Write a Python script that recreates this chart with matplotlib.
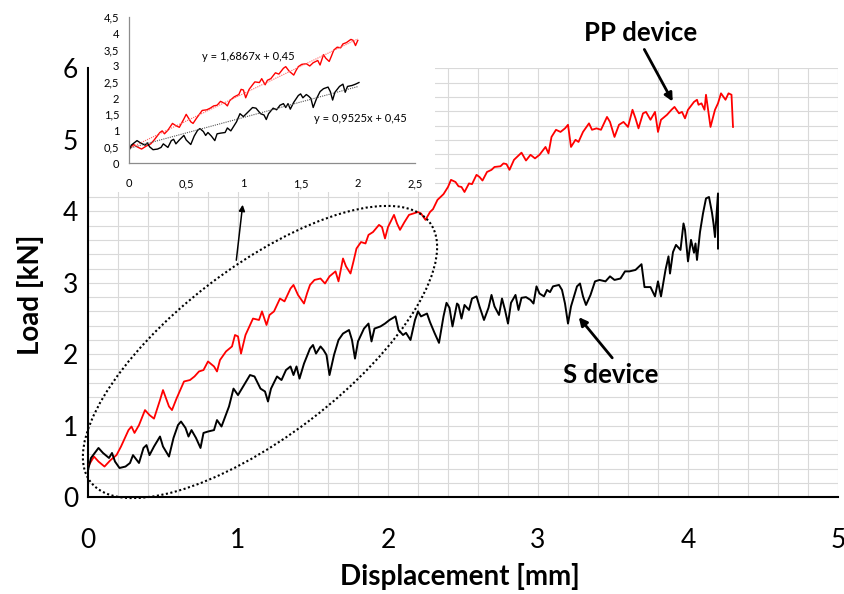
import matplotlib
matplotlib.use('Agg')
import matplotlib.pyplot as plt
from matplotlib.patches import Ellipse, Rectangle
from matplotlib.ticker import MultipleLocator
import numpy as np

plt.rcParams['font.family'] = ['Lato', 'DejaVu Sans']

# load-displacement record, PP device
pp_disp = [0.00, 0.04, 0.07, 0.11, 0.15, 0.19, 0.22, 0.27, 0.29, 0.31,
           0.34, 0.38, 0.41, 0.44, 0.48, 0.50, 0.54, 0.56, 0.59, 0.64,
           0.68, 0.71, 0.74, 0.77, 0.80, 0.84, 0.86, 0.88, 0.92, 0.96,
           0.98, 1.00, 1.02, 1.05, 1.08, 1.10, 1.14, 1.16, 1.19, 1.21,
           1.24, 1.28, 1.31, 1.35, 1.37, 1.40, 1.44, 1.46, 1.48, 1.51,
           1.55, 1.58, 1.61, 1.65, 1.67, 1.70, 1.72, 1.75, 1.77, 1.79,
           1.82, 1.85, 1.87, 1.90, 1.94, 1.96, 1.98, 2.00, 2.04, 2.06,
           2.08, 2.11, 2.14, 2.17, 2.20, 2.22, 2.25, 2.28, 2.30, 2.33,
           2.37, 2.40, 2.42, 2.45, 2.47, 2.49, 2.51, 2.54, 2.56, 2.59,
           2.61, 2.63, 2.66, 2.69, 2.71, 2.75, 2.77, 2.79, 2.81, 2.84,
           2.86, 2.89, 2.92, 2.95, 2.98, 3.01, 3.05, 3.07, 3.09, 3.12,
           3.15, 3.18, 3.20, 3.22, 3.25, 3.27, 3.30, 3.34, 3.36, 3.39,
           3.42, 3.46, 3.48, 3.51, 3.54, 3.57, 3.60, 3.63, 3.65, 3.67,
           3.70, 3.72, 3.75, 3.78, 3.80, 3.82, 3.86, 3.89, 3.91, 3.94,
           3.96, 3.98, 4.00, 4.04, 4.06, 4.07, 4.09, 4.11, 4.12, 4.15,
           4.18, 4.20, 4.22, 4.25, 4.27, 4.29, 4.30]
pp_load = [0.43, 0.57, 0.50, 0.43, 0.52, 0.59, 0.71, 0.94, 0.99, 0.90,
           1.01, 1.22, 1.15, 1.10, 1.36, 1.50, 1.27, 1.22, 1.38, 1.62,
           1.64, 1.69, 1.76, 1.78, 1.90, 1.83, 1.76, 1.92, 2.04, 2.11,
           2.27, 2.25, 2.01, 2.27, 2.41, 2.50, 2.48, 2.60, 2.41, 2.55,
           2.60, 2.78, 2.74, 2.92, 2.97, 2.83, 2.71, 2.85, 2.97, 3.04,
           3.06, 2.99, 3.09, 3.16, 3.02, 3.34, 3.23, 3.13, 3.30, 3.48,
           3.57, 3.55, 3.67, 3.71, 3.81, 3.78, 3.62, 3.78, 3.95, 3.83,
           3.74, 3.85, 3.95, 3.97, 3.99, 3.97, 3.88, 3.99, 4.03, 4.16,
           4.24, 4.34, 4.44, 4.41, 4.35, 4.34, 4.27, 4.39, 4.38, 4.51,
           4.48, 4.43, 4.55, 4.58, 4.62, 4.63, 4.67, 4.66, 4.58, 4.72,
           4.76, 4.82, 4.71, 4.79, 4.74, 4.79, 4.90, 4.81, 5.04, 5.14,
           5.11, 5.16, 5.21, 4.90, 5.00, 4.97, 5.11, 5.23, 5.14, 5.16,
           5.14, 5.32, 5.25, 5.04, 5.21, 5.25, 5.18, 5.42, 5.30, 5.16,
           5.37, 5.39, 5.28, 5.39, 5.11, 5.28, 5.35, 5.42, 5.46, 5.37,
           5.39, 5.30, 5.42, 5.53, 5.56, 5.49, 5.51, 5.42, 5.63, 5.18,
           5.42, 5.51, 5.65, 5.56, 5.65, 5.63, 5.18]

# load-displacement record, S device
s_disp = [0.00, 0.02, 0.07, 0.10, 0.14, 0.16, 0.18, 0.21, 0.25, 0.28,
          0.30, 0.34, 0.37, 0.39, 0.41, 0.44, 0.48, 0.50, 0.54, 0.57,
          0.60, 0.62, 0.65, 0.67, 0.69, 0.72, 0.75, 0.77, 0.80, 0.84,
          0.86, 0.89, 0.94, 0.97, 1.00, 1.04, 1.08, 1.11, 1.15, 1.18,
          1.20, 1.22, 1.26, 1.29, 1.32, 1.35, 1.37, 1.39, 1.41, 1.44,
          1.48, 1.50, 1.52, 1.55, 1.57, 1.59, 1.61, 1.64, 1.67, 1.70,
          1.74, 1.76, 1.78, 1.80, 1.84, 1.87, 1.89, 1.91, 1.95, 1.98,
          2.01, 2.05, 2.07, 2.10, 2.12, 2.15, 2.18, 2.20, 2.22, 2.26,
          2.28, 2.31, 2.34, 2.37, 2.39, 2.41, 2.43, 2.46, 2.47, 2.49,
          2.51, 2.54, 2.56, 2.59, 2.61, 2.64, 2.67, 2.69, 2.71, 2.74,
          2.76, 2.78, 2.80, 2.82, 2.85, 2.87, 2.89, 2.92, 2.95, 2.97,
          2.99, 3.01, 3.04, 3.06, 3.08, 3.10, 3.14, 3.16, 3.18, 3.20,
          3.22, 3.26, 3.28, 3.30, 3.32, 3.35, 3.38, 3.41, 3.45, 3.48,
          3.51, 3.55, 3.58, 3.61, 3.65, 3.69, 3.71, 3.75, 3.78, 3.80,
          3.82, 3.85, 3.87, 3.88, 3.90, 3.92, 3.95, 3.97, 3.98, 4.00,
          4.02, 4.04, 4.05, 4.06, 4.08, 4.10, 4.12, 4.14, 4.16, 4.17,
          4.18, 4.19, 4.20, 4.20]
s_load = [0.38, 0.55, 0.69, 0.62, 0.55, 0.62, 0.50, 0.41, 0.43, 0.48,
          0.59, 0.48, 0.69, 0.73, 0.59, 0.71, 0.85, 0.71, 0.57, 0.83,
          1.01, 1.06, 0.97, 0.85, 0.94, 0.83, 0.69, 0.90, 0.92, 0.94,
          1.08, 0.99, 1.27, 1.52, 1.43, 1.57, 1.71, 1.69, 1.52, 1.48,
          1.34, 1.52, 1.69, 1.64, 1.78, 1.83, 1.71, 1.83, 1.66, 1.87,
          2.08, 2.13, 2.01, 2.11, 2.06, 1.99, 1.71, 1.99, 2.20, 2.29,
          2.34, 2.20, 1.94, 2.18, 2.36, 2.43, 2.18, 2.36, 2.39, 2.43,
          2.48, 2.53, 2.34, 2.27, 2.30, 2.20, 2.48, 2.60, 2.53, 2.57,
          2.45, 2.30, 2.16, 2.53, 2.72, 2.65, 2.39, 2.71, 2.69, 2.50,
          2.69, 2.62, 2.78, 2.81, 2.67, 2.48, 2.65, 2.83, 2.67, 2.55,
          2.78, 2.62, 2.43, 2.72, 2.83, 2.62, 2.79, 2.80, 2.76, 2.71,
          2.95, 2.85, 2.81, 2.90, 2.87, 2.95, 2.97, 2.90, 2.71, 2.43,
          2.67, 2.95, 2.99, 2.81, 2.69, 2.83, 3.02, 3.04, 3.02, 3.09,
          3.04, 3.06, 3.16, 3.16, 3.18, 3.26, 2.94, 2.94, 2.81, 3.02,
          2.81, 3.18, 3.37, 3.13, 3.43, 3.53, 3.46, 3.83, 3.74, 3.30,
          3.60, 3.42, 3.55, 3.32, 3.71, 3.97, 4.18, 4.20, 3.98, 3.83,
          3.64, 3.95, 4.25, 3.48]

# linear fits over the first 2 mm
pp_fit = (1.6867, 0.45)
s_fit = (0.9525, 0.45)
fit_end = 2.0

main_xticks = [0, 1, 2, 3, 4, 5]
main_yticks = [0, 1, 2, 3, 4, 5, 6]
inset_xticks = [0, 0.5, 1, 1.5, 2, 2.5]
inset_xlabels = ['0', '0,5', '1', '1,5', '2', '2,5']
inset_yticks = [0, 0.5, 1, 1.5, 2, 2.5, 3, 3.5, 4, 4.5]
inset_ylabels = ['0', '0,5', '1', '1,5', '2', '2,5', '3', '3,5', '4', '4,5']

W, H = 844, 594
fig = plt.figure(figsize=(W / 100, H / 100), dpi=100)

# main axes
ax = fig.add_axes([88 / W, (H - 497.3) / H, 750 / W, 429 / H])
ax.set_xlim(0, 5)
ax.set_ylim(0, 6)
ax.xaxis.set_major_locator(plt.FixedLocator(main_xticks))
ax.yaxis.set_major_locator(plt.FixedLocator(main_yticks))
ax.xaxis.set_minor_locator(MultipleLocator(0.2))
ax.yaxis.set_minor_locator(MultipleLocator(0.2))
ax.grid(which='both', color='#d9d9d9', linewidth=0.8)
ax.set_axisbelow(True)
for side in ['top', 'right']:
    ax.spines[side].set_visible(False)
for side in ['left', 'bottom']:
    ax.spines[side].set_linewidth(1.5)
    ax.spines[side].set_color('black')
ax.tick_params(which='both', length=0)
ax.tick_params(axis='x', labelsize=19, pad=22)
ax.tick_params(axis='y', labelsize=19, pad=7)

ax.plot(pp_disp, pp_load, color='#ff0000', lw=1.3, zorder=3)
ax.plot(s_disp, s_load, color='black', lw=1.4, zorder=3)

# dotted ellipse marking the initial linear part
ell = Ellipse((2.60, (H - 352) / 100), 4.27, 1.69, angle=37.45,
              transform=fig.dpi_scale_trans, fill=False, edgecolor='black',
              linewidth=1.5, linestyle=(0, (1, 1.2)), clip_on=False, zorder=4)
ax.add_patch(ell)

arrow = dict(arrowstyle='-|>', color='black', lw=1.1, mutation_scale=9)
ax.annotate('', xy=(243, H - 202), xytext=(236, H - 263),
            xycoords='figure pixels', textcoords='figure pixels', arrowprops=arrow)

arrow_big = dict(arrowstyle='-|>', color='black', lw=2.0, mutation_scale=12)
ax.annotate('', xy=(674, H - 104), xytext=(643, H - 47),
            xycoords='figure pixels', textcoords='figure pixels', arrowprops=arrow_big)
ax.annotate('', xy=(577, H - 315), xytext=(614, H - 360),
            xycoords='figure pixels', textcoords='figure pixels', arrowprops=arrow_big)

fig.text(641 / W, (H - 33) / H, 'PP device', fontsize=18.5, fontweight='bold',
         ha='center', va='center')
fig.text(611 / W, (H - 375) / H, 'S device', fontsize=18.5, fontweight='bold',
         ha='center', va='center')
fig.text(460 / W, (H - 577) / H, 'Displacement [mm]', fontsize=20, fontweight='bold',
         ha='center', va='center')
fig.text(30 / W, (H - 295) / H, 'Load [kN]', fontsize=20, fontweight='bold',
         ha='center', va='center', rotation=90)

# white panel behind the inset
fig.add_artist(Rectangle((89 / W, (H - 192) / H), 346 / W, 192 / H,
                         transform=fig.transFigure, facecolor='white',
                         edgecolor='none', zorder=0.5))

# inset: first 2 mm with linear fits
ins = fig.add_axes([129 / W, (H - 163) / H, 286 / W, 146 / H], zorder=1)
ins.patch.set_visible(False)
ins.set_xlim(0, 2.5)
ins.set_ylim(0, 4.5)
ins.set_xticks(inset_xticks)
ins.set_xticklabels(inset_xlabels)
ins.set_yticks(inset_yticks)
ins.set_yticklabels(inset_ylabels)
ins.tick_params(length=0, labelsize=8)
ins.tick_params(axis='x', pad=11)
ins.tick_params(axis='y', pad=7)
for side in ['top', 'right']:
    ins.spines[side].set_visible(False)
for side in ['left', 'bottom']:
    ins.spines[side].set_color('#8c8c8c')
    ins.spines[side].set_linewidth(0.9)

pp_d = np.array(pp_disp)
pp_l = np.array(pp_load)
s_d = np.array(s_disp)
s_l = np.array(s_load)
m_pp = pp_d <= 2.0
m_s = s_d <= 2.01
ins.plot(pp_d[m_pp], pp_l[m_pp], color='#ff0000', lw=1.0)
ins.plot(s_d[m_s], s_l[m_s], color='black', lw=1.0)

xf = np.array([0, fit_end])
ins.plot(xf, pp_fit[0] * xf + pp_fit[1], color='#ff6060', lw=0.8, linestyle=(0, (1, 1)))
ins.plot(xf, s_fit[0] * xf + s_fit[1], color='#555555', lw=0.8, linestyle=(0, (1, 1)))

ins.text(1.04, 3.27, 'y = 1,6867x + 0,45', fontsize=8, ha='center', va='center')
ins.text(2.02, 1.36, 'y = 0,9525x + 0,45', fontsize=8, ha='center', va='center',
         clip_on=False)

fig.savefig('out.png', dpi=100)
